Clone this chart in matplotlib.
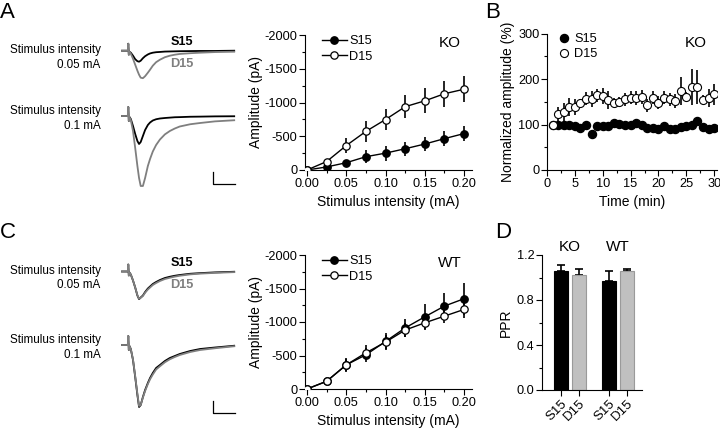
import numpy as np
import matplotlib
matplotlib.use("Agg")
import matplotlib.pyplot as plt
from matplotlib.ticker import AutoMinorLocator, FormatStrFormatter, MultipleLocator
from matplotlib.lines import Line2D

plt.rcParams['font.family'] = ['Liberation Sans', 'DejaVu Sans']
plt.rcParams['axes.unicode_minus'] = False
plt.rcParams['axes.linewidth'] = 0.8

# ---- data ----
# example traces (ms, pA)
t_ms = [0, 5.3, 5.7, 6.2, 6.8, 8, 10, 12, 14, 15.5, 17, 19, 21, 23.5, 25.5, 28, 31,
        34.5, 39, 43.5, 48, 52.5, 62, 71, 84.5, 102]
ko_lo_s15 = [0, 0, 56, -32, -8, -16, -40, -68, -84, -88, -80, -60, -44, -30, -22, -16, -12,
             -10, -7, -6, -5, -4, -3, -2, -2, 0]
ko_lo_d15 = [0, 0, 56, -32, -8, -24, -64, -112, -160, -192, -216, -220, -204, -176, -152, -120, -92,
             -72, -52, -40, -32, -26, -20, -16, -11, -8]
ko_hi_s15 = [0, 0, 72, -40, -8, -24, -80, -144, -200, -224, -208, -160, -112, -72, -52, -36, -26,
             -20, -16, -13, -10, -9, -6, -5, -3, -2]
ko_hi_d15 = [0, 0, 72, -40, -8, -32, -120, -256, -400, -496, -560, -560, -496, -400, -344, -284, -232,
             -188, -147, -120, -100, -84, -66, -56, -43, -34]
wt_lo_s15 = [0, 0, 56, -32, -8, -24, -72, -128, -192, -221, -208, -192, -164, -136, -120, -100, -84,
             -68, -52, -42, -34, -28, -18, -13, -7, -2]
wt_lo_d15 = [0, 0, 56, -32, -8, -24, -72, -128, -190, -218, -210, -196, -170, -144, -128, -108, -92,
             -76, -60, -50, -41, -34, -23, -17, -11, -5]
wt_hi_s15 = [0, 0, 72, -40, -8, -32, -120, -256, -400, -496, -480, -416, -360, -304, -264, -224, -184,
             -160, -128, -104, -88, -72, -48, -32, -20, -6]
wt_hi_d15 = [0, 0, 72, -40, -8, -32, -116, -250, -392, -488, -480, -420, -368, -312, -274, -236, -196,
             -170, -138, -114, -96, -80, -56, -40, -26, -10]
scale_ms = 20
scale_pa = 100

# input-output curves
intensity = [0, 0.025, 0.05, 0.075, 0.1, 0.125, 0.15, 0.175, 0.2]
ko_s15 = [0, -45, -108, -197, -250, -315, -385, -465, -540]
ko_s15_err = [0, 30, 40, 100, 110, 105, 105, 110, 110]
ko_d15 = [0, -125, -362, -572, -748, -938, -1025, -1130, -1197]
ko_d15_err = [0, 30, 110, 160, 150, 170, 185, 190, 190]
wt_s15 = [0, -115, -360, -510, -710, -912, -1078, -1238, -1348]
wt_s15_err = [0, 50, 105, 100, 125, 140, 185, 190, 240]
wt_d15 = [0, -115, -360, -540, -700, -880, -988, -1088, -1188]
wt_d15_err = [0, 40, 95, 110, 100, 100, 100, 100, 125]

# time course (KO)
minutes = list(range(1, 31))
tc_s15 = [100, 98, 100, 100, 97, 92, 100, 80, 97, 97, 97, 104, 101, 100, 98, 104, 99, 93, 93, 91,
          97, 91, 91, 94, 96, 100, 108, 94, 90, 93]
tc_s15_err = [0, 4, 4, 4, 4, 4, 4, 8, 4, 4, 4, 4, 4, 4, 4, 5, 4, 4, 4, 4,
              4, 4, 4, 4, 4, 5, 5, 4, 4, 4]
tc_d15 = [100, 123, 128, 139, 139, 147, 157, 156, 164, 162, 154, 148, 150, 155, 159, 158, 161, 142, 159, 148,
          159, 155, 152, 174, 161, 183, 183, 154, 159, 166]
tc_d15_err = [0, 15, 20, 20, 18, 10, 15, 18, 15, 18, 20, 10, 10, 15, 15, 15, 15, 15, 15, 15,
              15, 15, 15, 31, 10, 40, 37, 10, 20, 23]

# paired-pulse ratio
ppr_labels = ['S15', 'D15', 'S15', 'D15']
ppr = [1.06, 1.02, 0.97, 1.055]
ppr_err = [0.05, 0.06, 0.09, 0.02]

GRAY = '#7f7f7f'
W, H = 720, 430
fig = plt.figure(figsize=(7.2, 4.3), dpi=100)


def px_axes(x0, y0, x1, y1):
    return fig.add_axes([x0 / W, 1 - y1 / H, (x1 - x0) / W, (y1 - y0) / H])


def ftext(x, y, s, **kw):
    fig.text(x / W, 1 - y / H, s, **kw)


def style(ax):
    for s in ['top', 'right']:
        ax.spines[s].set_visible(False)
    ax.tick_params(which='major', direction='out', length=4, width=0.8, labelsize=9.2, pad=1.5)
    ax.tick_params(which='minor', direction='out', length=2.2, width=0.8)


# ---- traces ----
PA_PER_PX = 8.0
MS_PER_PX = 1 / 1.1


def trace_axes(base, top, bot, s15, d15, bar=False):
    ax = px_axes(118, top, 240, bot)
    ax.set_xlim(-4 * MS_PER_PX, 118 * MS_PER_PX)
    ax.set_ylim(-(bot - base) * PA_PER_PX, (base - top) * PA_PER_PX)
    ax.plot(t_ms, s15, color='black', lw=1.3, solid_joinstyle='round')
    ax.plot(t_ms, d15, color=GRAY, lw=1.3, solid_joinstyle='round')
    if bar:
        x0, y0 = 82.7, -544
        ax.plot([x0, x0, x0 + scale_ms], [y0 + scale_pa, y0, y0], color='black', lw=0.9)
    ax.axis('off')


trace_axes(50.7, 38, 88, ko_lo_s15, ko_lo_d15)
trace_axes(116, 100, 192, ko_hi_s15, ko_hi_d15, bar=True)
trace_axes(271.5, 258, 305, wt_lo_s15, wt_lo_d15)
trace_axes(345, 330, 420, wt_hi_s15, wt_hi_d15, bar=True)

for y, s in [(50, 'Stimulus intensity'), (65, '0.05 mA'), (111, 'Stimulus intensity'), (126, '0.1 mA'),
             (271, 'Stimulus intensity'), (285, '0.05 mA'), (340, 'Stimulus intensity'), (355, '0.1 mA')]:
    ftext(100.7, y, s, ha='right', va='center', fontsize=8.4)
for y0 in (0, 221):
    ftext(182, 42 + y0, 'S15', ha='center', va='center', fontsize=9.2, fontweight='bold')
    ftext(182, 64 + y0, 'D15', ha='center', va='center', fontsize=9.2, fontweight='bold', color=GRAY)

# ---- input/output panels ----
for (top, bot, s15, s15e, d15, d15e, tag) in [
        (35, 170, ko_s15, ko_s15_err, ko_d15, ko_d15_err, 'KO'),
        (255, 389, wt_s15, wt_s15_err, wt_d15, wt_d15_err, 'WT')]:
    ax = px_axes(305, top, 472, bot)
    style(ax)
    ax.errorbar(intensity, s15, yerr=s15e, color='black', lw=1, elinewidth=1.2, capsize=0,
                marker='o', ms=5.3, mfc='black', mec='black', zorder=3)
    ax.errorbar(intensity, d15, yerr=d15e, color='black', lw=1, elinewidth=1.2, capsize=0,
                marker='o', ms=5.3, mfc='white', mec='black', mew=0.9, zorder=4)
    ax.set_xlim(-0.0025, 0.21)
    ax.set_ylim(0, -2000)
    ax.xaxis.set_major_locator(MultipleLocator(0.05))
    ax.xaxis.set_minor_locator(AutoMinorLocator(2))
    ax.xaxis.set_major_formatter(FormatStrFormatter('%.2f'))
    ax.yaxis.set_major_locator(MultipleLocator(500))
    ax.yaxis.set_minor_locator(AutoMinorLocator(2))
    ax.set_xlabel('Stimulus intensity (mA)', fontsize=10, labelpad=4)
    ax.set_ylabel('Amplitude (pA)', fontsize=10, labelpad=1)
    handles = [Line2D([], [], color='black', lw=1, marker='o', ms=5.3, mfc='black', mec='black'),
               Line2D([], [], color='black', lw=1, marker='o', ms=5.3, mfc='white', mec='black', mew=0.9)]
    ax.legend(handles, ['S15', 'D15'], loc='upper left', bbox_to_anchor=(0.1, 1.0), frameon=False,
              borderpad=0, borderaxespad=0, handlelength=2.0, handletextpad=0.15,
              labelspacing=0.3, fontsize=9.2)
    ax.text(0.868, 0.94, tag, transform=ax.transAxes, ha='center', va='center', fontsize=11)

# ---- time course ----
ax = px_axes(547, 33.5, 717, 170)
style(ax)
ax.errorbar(minutes, tc_s15, yerr=tc_s15_err, fmt='o', color='black', elinewidth=1.2, capsize=0,
            ms=5.8, mfc='black', mec='black', zorder=3, label='S15')
ax.errorbar(minutes, tc_d15, yerr=tc_d15_err, fmt='o', color='black', elinewidth=1.2, capsize=0,
            ms=5.8, mfc='white', mec='black', mew=0.8, zorder=4, label='D15')
ax.set_xlim(0, 30.5)
ax.set_ylim(0, 300)
ax.xaxis.set_major_locator(MultipleLocator(5))
ax.xaxis.set_minor_locator(AutoMinorLocator(2))
ax.yaxis.set_major_locator(MultipleLocator(100))
ax.yaxis.set_minor_locator(AutoMinorLocator(2))
ax.set_xlabel('Time (min)', fontsize=10, labelpad=4)
ax.set_ylabel('Normalized amplitude (%)', fontsize=10, labelpad=2)
handles = [Line2D([], [], ls='none', marker='o', ms=5.8, mfc='black', mec='black'),
           Line2D([], [], ls='none', marker='o', ms=5.8, mfc='white', mec='black', mew=0.8)]
ax.legend(handles, ['S15', 'D15'], loc='upper left', bbox_to_anchor=(0.07, 1.0), frameon=False,
          borderpad=0, borderaxespad=0, handlelength=0.8, handletextpad=0.4,
          labelspacing=0.2, fontsize=9.2)
ax.text(0.875, 0.93, 'KO', transform=ax.transAxes, ha='center', va='center', fontsize=11)

# ---- PPR ----
ax = px_axes(542, 255, 642, 390)
style(ax)
pos = [1, 2, 3.65, 4.67]
colors = ['black', '#c0c0c0', 'black', '#c0c0c0']
edges = ['black', '#9a9a9a', 'black', '#9a9a9a']
ax.bar(pos, ppr, width=0.8, color=colors, edgecolor=edges, linewidth=0.8, zorder=2)
ax.errorbar(pos, ppr, yerr=[[0] * 4, ppr_err], fmt='none', ecolor='black', elinewidth=1.2,
            capsize=3, capthick=1.2, zorder=1)
ax.set_xlim(-0.07, 5.5)
ax.set_ylim(0, 1.2)
ax.yaxis.set_major_locator(MultipleLocator(0.4))
ax.yaxis.set_minor_locator(AutoMinorLocator(2))
ax.yaxis.set_major_formatter(FormatStrFormatter('%.1f'))
ax.set_xticks(pos)
ax.set_xticklabels(ppr_labels, rotation=45, ha='right', rotation_mode='anchor', fontsize=9.5)
ax.set_ylabel('PPR', fontsize=10, labelpad=2.5)
ax.text(1.5, 1.27, 'KO', ha='center', va='center', fontsize=11, clip_on=False)
ax.text(4.16, 1.27, 'WT', ha='center', va='center', fontsize=11, clip_on=False)

# panel letters
for x, y, s in [(0, 12, 'A'), (485, 12, 'B'), (0, 233, 'C'), (495, 233, 'D')]:
    ftext(x, y, s, ha='left', va='center', fontsize=16)

fig.savefig('out.png', dpi=100)
